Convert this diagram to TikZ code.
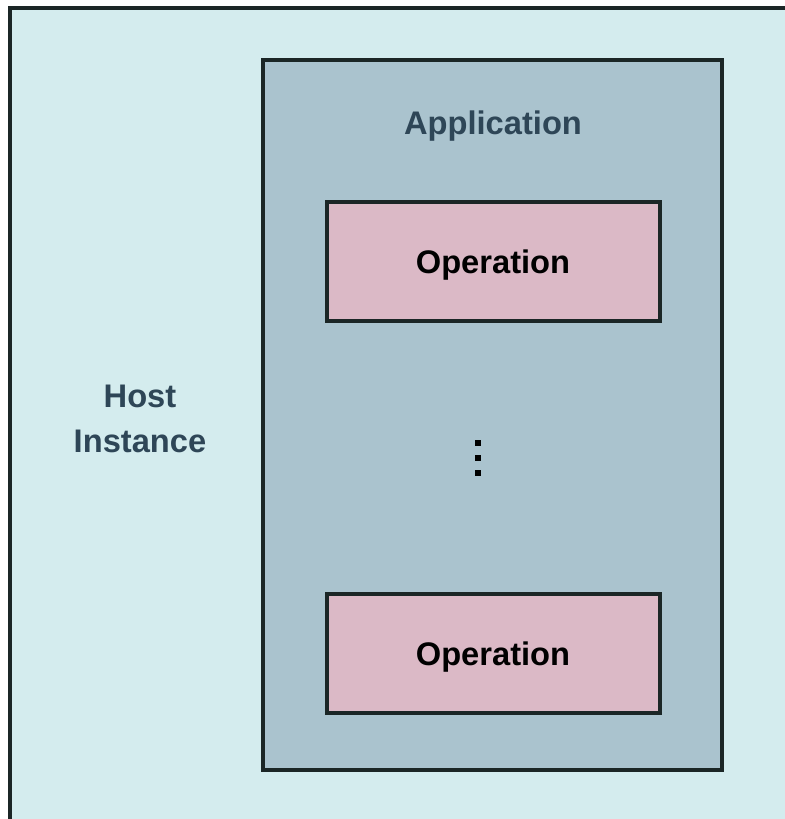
\documentclass[tikz,border=0pt]{standalone}
\usepackage{fontspec}
\setmainfont{Liberation Sans}
\usepackage{tikz}

\definecolor{hostfill}{HTML}{D4ECEE}
\definecolor{appfill}{HTML}{AAC3CE}
\definecolor{opfill}{HTML}{DBB9C6}
\definecolor{edge}{HTML}{1B2626}
\definecolor{labeltext}{HTML}{2E4657}

\begin{document}
\begin{tikzpicture}[x=0.75pt,y=-0.75pt, inner sep=0pt, font=\bfseries\fontsize{24.5}{34}\selectfont]
\useasboundingbox (0,0) rectangle (785,819);
\clip (0,0) rectangle (785,819);
\tikzset{box/.style={rectangle, draw=edge, line width=2.4pt},
         opbox/.style={box, fill=opfill, minimum width=249.75pt, minimum height=89.25pt},
         lbl/.style={text=black}}
\draw[fill=hostfill, draw=edge, line width=2.4pt] (10,8) rectangle (820,840);
\node (host) at (140,419) [align=center, text=labeltext] {Host\\Instance};
\node (app) at (492.5,415) [box, fill=appfill, minimum width=344.25pt, minimum height=532.5pt] {};
\node (apptitle) at (493,126) [text=labeltext] {Application};
\node (op1) at (493.5,261.5) [opbox] {};
\node (op2) at (493.5,653.5) [opbox] {};
\node (op1lbl) at (493,265) [lbl] {Operation};
\node (op2lbl) at (493,657) [lbl] {Operation};
\foreach \y/\n in {443/a,458/b,473/c}
  \node (dot\n) at (478,\y) [rectangle, fill=black, minimum size=4.5pt] {};
\end{tikzpicture}
\end{document}
